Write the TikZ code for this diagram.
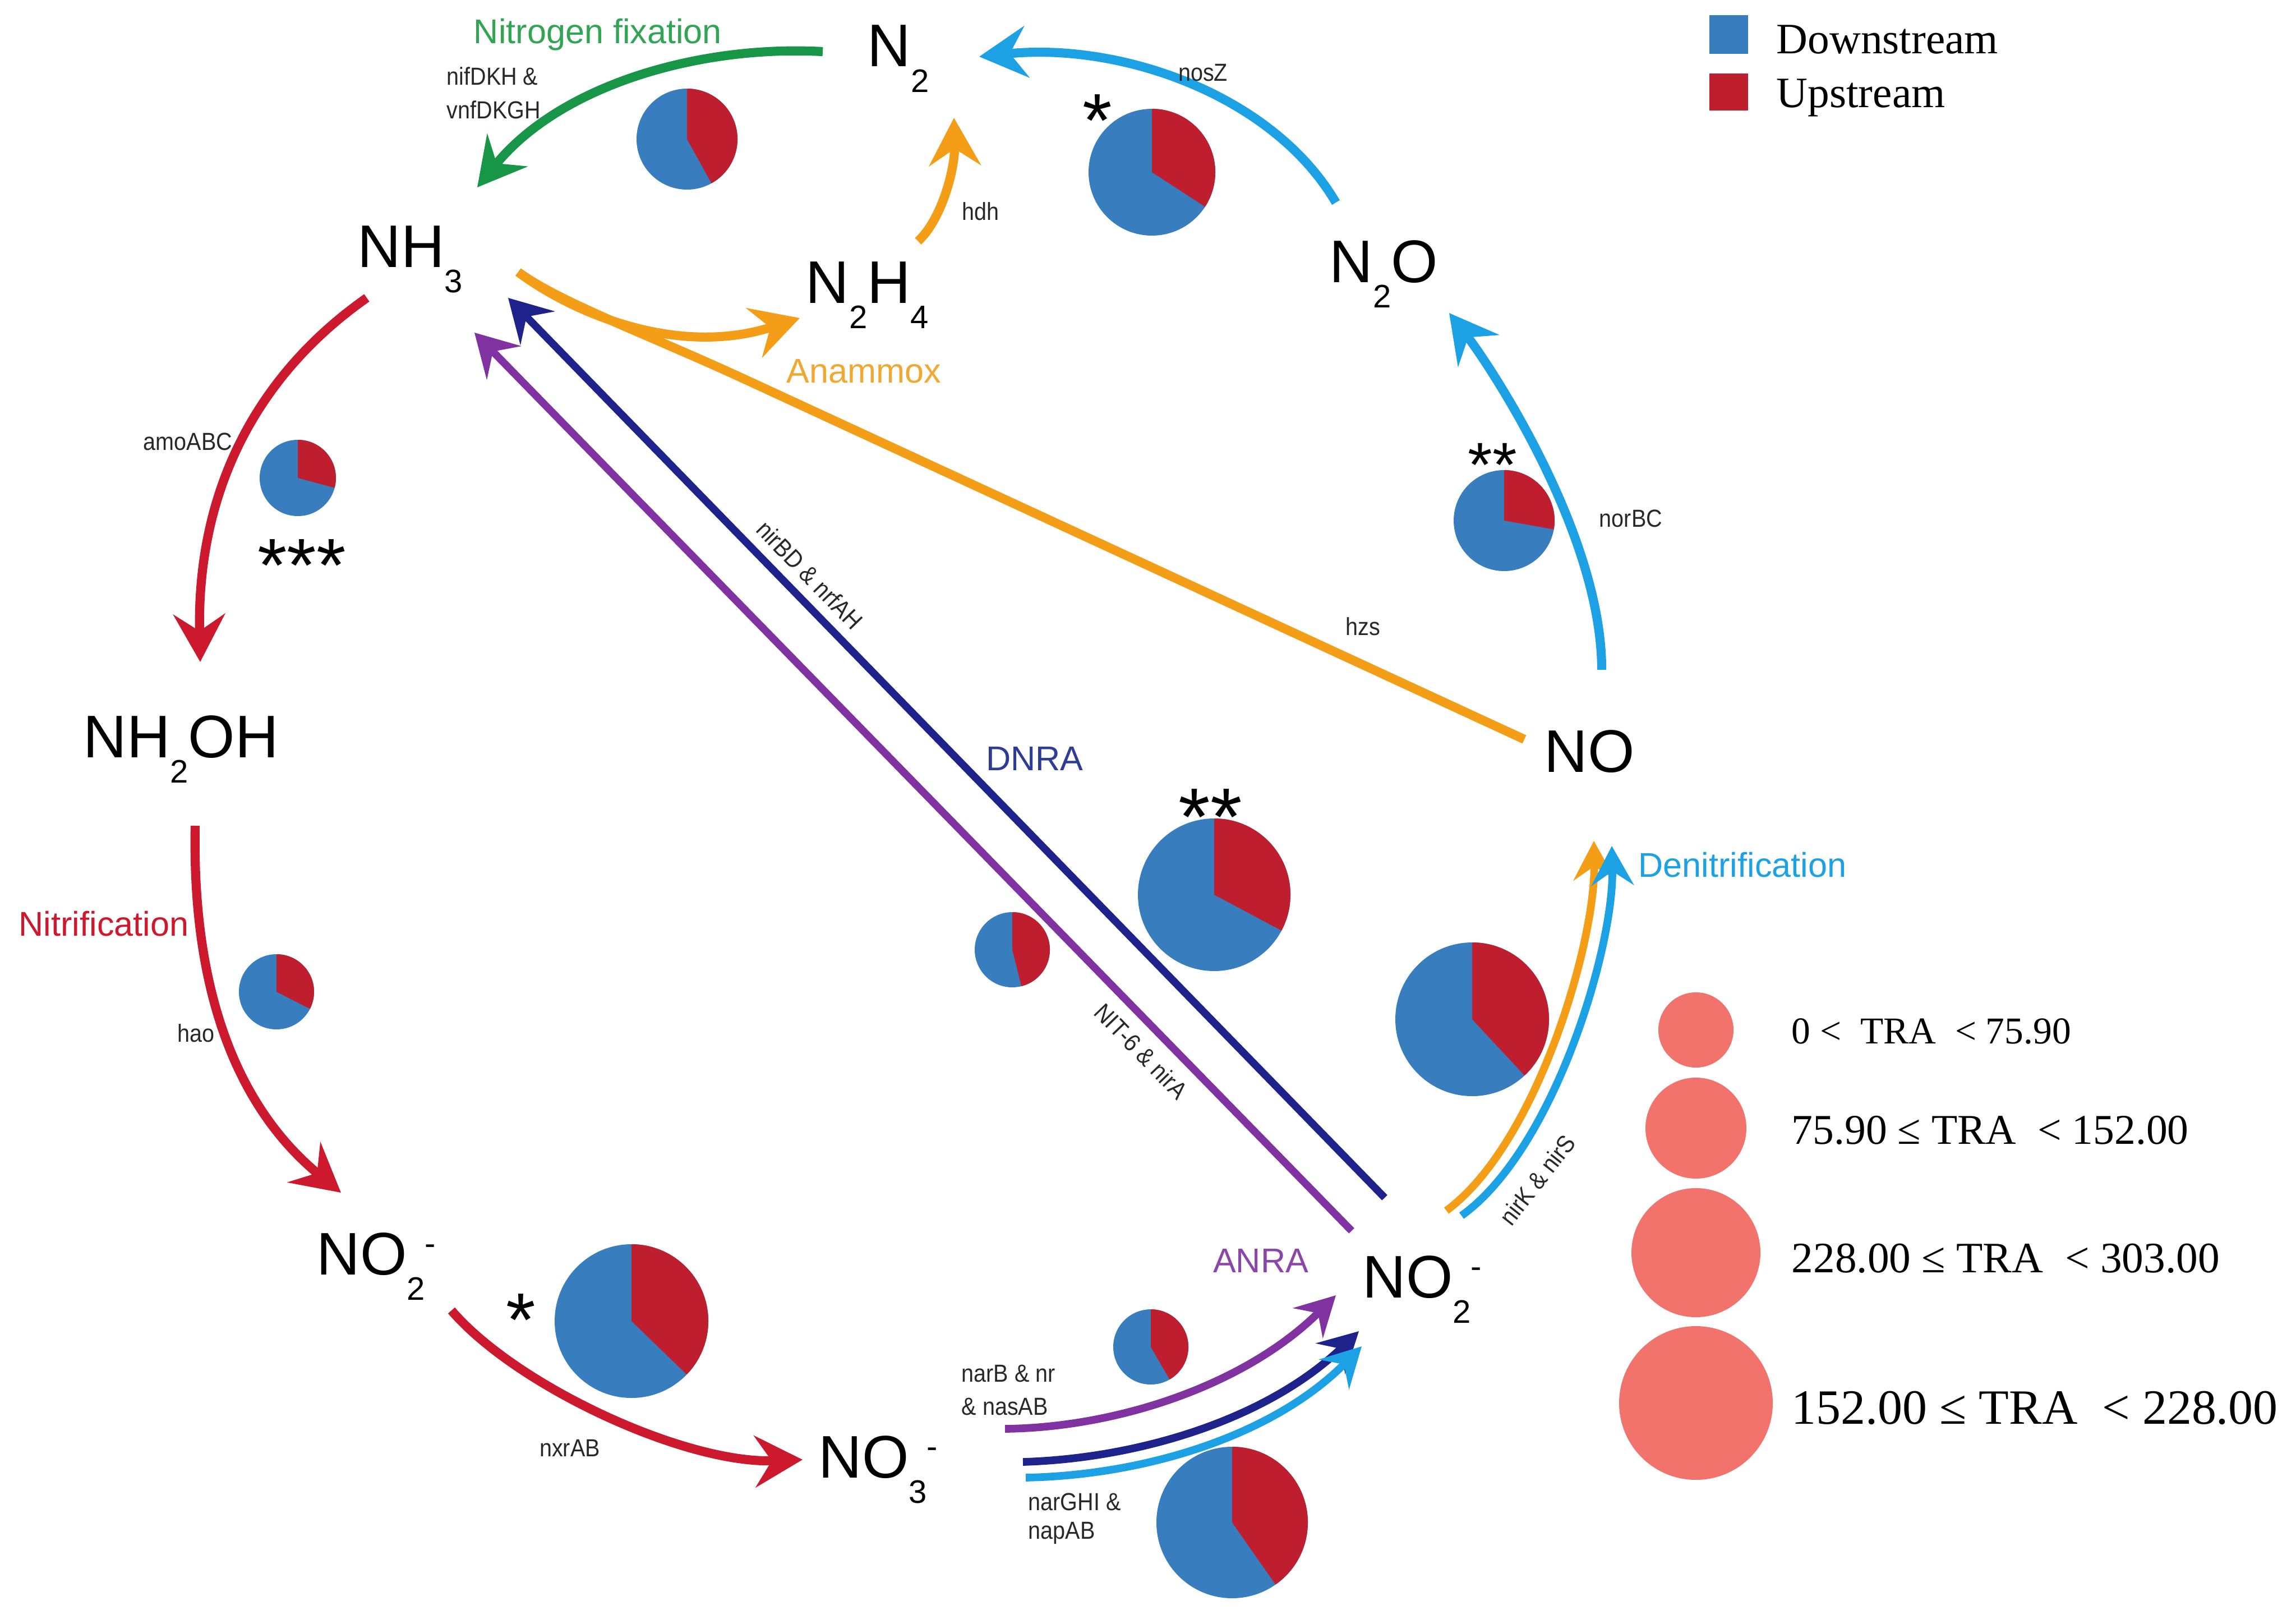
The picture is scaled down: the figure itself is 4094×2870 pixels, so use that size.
\documentclass[tikz,border=0pt]{standalone}
\usepackage{fontspec}
\setmainfont{Liberation Sans}
\newfontfamily\serifl{Liberation Serif}
\newfontfamily\genef[FakeStretch=0.9]{Liberation Sans}
\usetikzlibrary{arrows.meta}
\definecolor{pieblue}{RGB}{56,126,190}
\definecolor{piered}{RGB}{190,30,45}
\definecolor{cgreen}{RGB}{22,150,70}
\definecolor{tgreen}{RGB}{50,165,85}
\definecolor{cred}{RGB}{205,25,45}
\definecolor{corange}{RGB}{243,158,22}
\definecolor{torange}{RGB}{240,168,50}
\definecolor{cblue}{RGB}{28,162,228}
\definecolor{cnavy}{RGB}{30,35,140}
\definecolor{tnavy}{RGB}{45,60,150}
\definecolor{cpurple}{RGB}{128,50,160}
\definecolor{tpurple}{RGB}{140,70,170}
\definecolor{salmon}{RGB}{242,114,108}
\definecolor{genegray}{RGB}{40,40,40}
\newcommand{\chsub}[1]{\raisebox{-13pt}{\fontsize{16.5}{16.5}\selectfont #1}}
\newcommand{\chsup}[1]{\raisebox{10pt}{\fontsize{16.5}{16.5}\selectfont #1}}
\newcommand{\piechart}[5]{%
  \fill[pieblue] (#2,#3) circle[radius=#4];
  \fill[piered] (#2,#3) -- ++(-90:#4) arc[start angle=-90, end angle={-(#5)}, radius=#4] -- cycle;
  \coordinate (#1) at (#2,#3);
}
\tikzset{
  chem/.style={anchor=base west, inner sep=0pt, font=\fontsize{30.5}{30.5}\selectfont},
  proc/.style={anchor=base, inner sep=0pt, font=\fontsize{17.4}{17.4}\selectfont},
  gene/.style={inner sep=0pt, text=genegray, font=\genef\fontsize{12.5}{17}\selectfont},
  astk/.style={anchor=base, inner sep=0pt},
  legtxt/.style={anchor=base west, inner sep=0pt},
  arr/.style={line width=4.6pt, -{Stealth[length=0.85cm,width=0.92cm,inset=0.3cm]}},
  linearr/.style={line width=3.8pt, -{Stealth[length=0.75cm,width=0.85cm,inset=0.28cm]}},
  smallarr/.style={line width=3.9pt, -{Stealth[length=0.7cm,width=0.75cm,inset=0.25cm]}},
  plainline/.style={line width=4.6pt},
}
\begin{document}
\begin{tikzpicture}[x=0.01cm,y=-0.01cm]
\useasboundingbox (0,0) rectangle (4094,2870);
\fill[white] (0,0) rectangle (4094,2870);

% ---------- pies ----------
\piechart{p1}{1225}{248}{90}{-61}
\piechart{p2}{531}{852}{68}{-15}
\piechart{p3}{493}{1768}{67}{-27}
\piechart{p4}{1126}{2355}{137}{-44}
\piechart{p5}{2052}{2401}{67}{-60}
\piechart{p6}{2197}{2714}{135}{-55}
\piechart{p7}{1805}{1693}{67}{-76}
\piechart{p8}{2165}{1595}{136}{-28}
\piechart{p9}{2625}{1817}{137}{-47}
\piechart{p10}{2682}{928}{90}{-10}
\piechart{p11}{2054}{307}{113}{-33}

% ---------- chemical species ----------
\node[chem] (n2) at (1546,119) {N\chsub{2}};
\node[chem] (nh3) at (637,476) {NH\chsub{3}};
\node[chem] (n2h4) at (1436,540) {N\chsub{2}H\chsub{4}};
\node[chem] (n2o) at (2370,503) {N\chsub{2}O};
\node[chem] (nh2oh) at (148,1350) {NH\chsub{2}OH};
\node[chem] (no) at (2753,1376) {NO};
\node[chem] (no2a) at (564,2272) {NO\chsub{2}\chsup{-}};
\node[chem] (no3) at (1459,2634) {NO\chsub{3}\chsup{-}};
\node[chem] (no2b) at (2429,2313) {NO\chsub{2}\chsup{-}};

% ---------- connector end points ----------
\coordinate (gfS) at (1467,92);   \coordinate (gfE) at (851,334);
\coordinate (amS) at (654,531);   \coordinate (amE) at (357,1180);
\coordinate (haS) at (348,1472);  \coordinate (haE) at (608,2126);
\coordinate (nxS) at (805,2336);  \coordinate (nxE) at (1431,2602);
\coordinate (hdS) at (1637,430);  \coordinate (hdE) at (1701,210);
\coordinate (anS) at (924,485);   \coordinate (anE) at (1426,567);
\coordinate (hzM) at (1330,677);  \coordinate (hzE) at (2718,1318);
\coordinate (nsS) at (2382,361);  \coordinate (nsE) at (1746,101);
\coordinate (nrS) at (2856,1194); \coordinate (nrE) at (2584,558);
\coordinate (pbS) at (1792,2547); \coordinate (pbE) at (2382,2309);
\coordinate (nvS) at (1824,2606); \coordinate (nvE) at (2423,2373);
\coordinate (lbS) at (1829,2634); \coordinate (lbE) at (2428,2400);
\coordinate (okS) at (2579,2158); \coordinate (okE) at (2842,1499);
\coordinate (bkS) at (2606,2167); \coordinate (bkE) at (2874,1508);
\coordinate (dlS) at (2469,2135); \coordinate (dlE) at (906,531);
\coordinate (alS) at (2410,2194); \coordinate (alE) at (846,593);

% ---------- connectors ----------
\draw[arr, cgreen] (gfS) .. controls (1250,80) and (1000,150) .. (gfE);
\draw[arr, cred] (amS) .. controls (470,660) and (350,860) .. (amE);
\draw[arr, cred] (haS) .. controls (342,1780) and (430,1980) .. (haE);
\draw[arr, cred] (nxS) .. controls (920,2470) and (1220,2610) .. (nxE);
\draw[arr, corange] (hdS) .. controls (1680,390) and (1703,300) .. (hdE);
\draw[plainline, corange] (anS) .. controls (1000,540) and (1150,594) .. (hzM) -- (hzE);
\draw[arr, corange] (anS) .. controls (1010,550) and (1200,640) .. (anE);
\draw[arr, cblue] (nsS) .. controls (2270,170) and (2000,75) .. (nsE);
\draw[arr, cblue] (nrS) .. controls (2856,950) and (2654,648) .. (nrE);
\draw[linearr, cnavy] (dlS) -- (dlE);
\draw[linearr, cpurple] (alS) -- (alE);
\draw[smallarr, cnavy] (nvS) .. controls (2030,2600) and (2260,2530) .. (nvE);
\draw[smallarr, cpurple] (pbS) .. controls (1990,2545) and (2220,2470) .. (pbE);
\draw[smallarr, cblue] (lbS) .. controls (2040,2630) and (2270,2560) .. (lbE);
\draw[smallarr, corange] (okS) .. controls (2740,2040) and (2845,1680) .. (okE);
\draw[smallarr, cblue] (bkS) .. controls (2770,2050) and (2878,1690) .. (bkE);

% ---------- process labels ----------
\node[proc, text=tgreen] (tnfix) at (1066,78) {Nitrogen fixation};
\node[proc, text=torange] (tana) at (1540,682) {Anammox};
\node[proc, text=cred] (tnit) at (185,1668) {Nitrification};
\node[proc, text=tnavy] (tdnra) at (1845,1373) {DNRA};
\node[proc, text=tpurple] (tanra) at (2248,2268) {ANRA};
\node[proc, text=cblue] (tden) at (3107,1563) {Denitrification};

% ---------- gene labels ----------
\node[gene, anchor=north west, align=left] (lnif) at (796,119) {nifDKH \&\\vnfDKGH};
\node[gene] (lamo) at (335,787) {amoABC};
\node[gene] (lhao) at (350,1842) {hao};
\node[gene] (lnxr) at (1016,2581) {nxrAB};
\node[gene] (lhdh) at (1748,377) {hdh};
\node[gene] (lnos) at (2145,130) {nosZ};
\node[gene] (lnor) at (2908,924) {norBC};
\node[gene] (lhzs) at (2430,1117) {hzs};
\node[gene, anchor=north west, align=left] (lnarb) at (1714,2432) {narB \& nr\\\& nasAB};
\node[gene, anchor=north west, align=left, font=\genef\fontsize{12.5}{14.5}\selectfont] (lnarg) at (1833,2661) {narGHI \&\\napAB};
\node[gene, rotate=52] (lnirk) at (2741,2103) {nirK \& nirS};
\node[gene, rotate=-46] (lnirbd) at (1444,1025) {nirBD \& nrfAH};
\node[gene, rotate=-46] (lnit) at (2035,1874) {NIT-6 \& nirA};

% ---------- significance stars ----------
\node[astk, font=\fontsize{38.4}{40}\selectfont] (st1) at (538,1054) {***};
\node[astk, font=\fontsize{38.4}{40}\selectfont] (st2) at (1957,262) {*};
\node[astk, font=\fontsize{31.9}{33}\selectfont] (st3) at (2661,867) {**};
\node[astk, font=\fontsize{41.3}{43}\selectfont] (st4) at (2158,1506) {**};
\node[astk, font=\fontsize{38.4}{40}\selectfont] (st5) at (929,2399) {*};

% ---------- legend ----------
\fill[pieblue] (3048,27) rectangle (3117,96);
\fill[piered] (3048,131) rectangle (3117,197);
\node[legtxt, font=\serifl\fontsize{22}{22}\selectfont] (ldown) at (3167,96) {Downstream};
\node[legtxt, font=\serifl\fontsize{22}{22}\selectfont] (lup) at (3167,192) {Upstream};

\fill[salmon] (3024,1836) circle[radius=67];
\fill[salmon] (3024,2011) circle[radius=90];
\fill[salmon] (3024,2233) circle[radius=115];
\fill[salmon] (3024,2501) circle[radius=137];
\node[legtxt, font=\serifl\fontsize{19.2}{20}\selectfont] (s1) at (3194,1860) {0 <\ \ TRA\ \ < 75.90};
\node[legtxt, font=\serifl\fontsize{21.5}{22}\selectfont] (s2) at (3194,2039) {75.90 ≤ TRA\ \ < 152.00};
\node[legtxt, font=\serifl\fontsize{22}{23}\selectfont] (s3) at (3194,2268) {228.00 ≤ TRA\ \ < 303.00};
\node[legtxt, font=\serifl\fontsize{25}{26}\selectfont] (s4) at (3194,2538) {152.00 ≤ TRA\ \ < 228.00};
\end{tikzpicture}
\end{document}
